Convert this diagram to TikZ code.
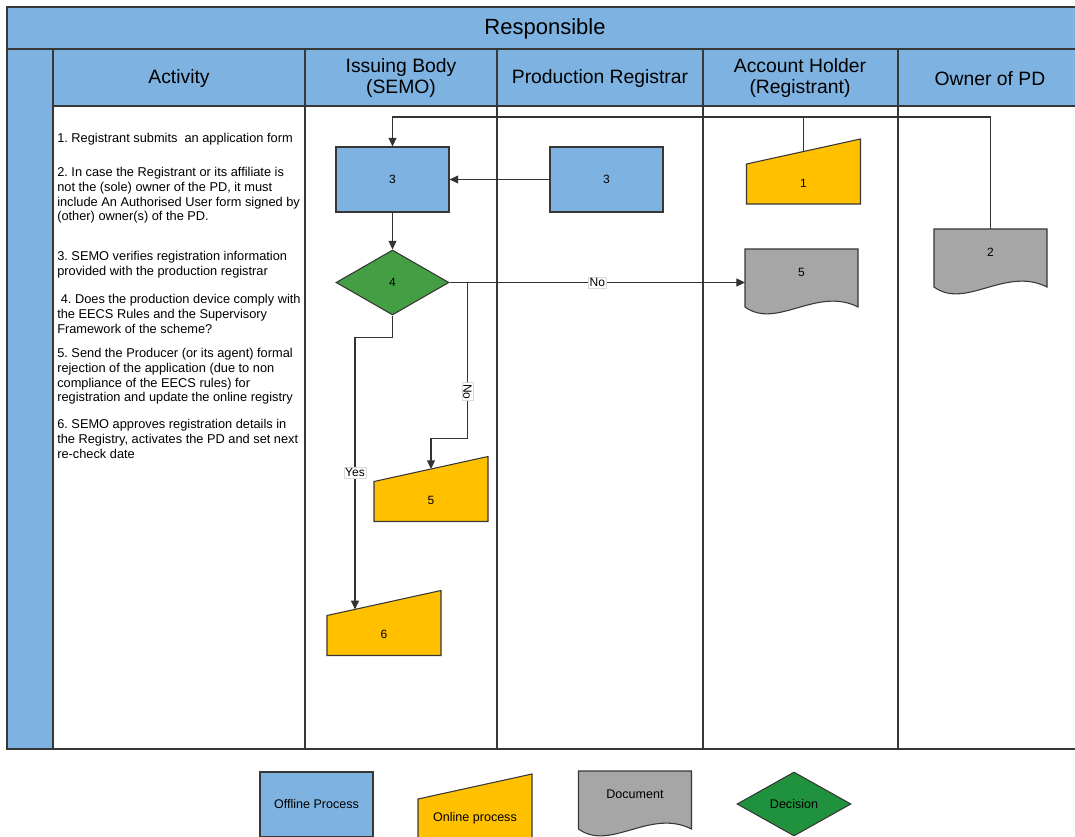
\documentclass[tikz,border=0pt]{standalone}
\usepackage{fontspec}
\setmainfont{Liberation Sans}
\usepackage{tikz}
\usetikzlibrary{positioning}
\usetikzlibrary{shapes}
\usetikzlibrary{calc}
\usetikzlibrary{arrows.meta}
\definecolor{bleuoff}{RGB}{126,178,224}
\definecolor{jauneon}{RGB}{255,192,0}
\definecolor{grisdoc}{RGB}{166,166,166}
\definecolor{vertdec}{RGB}{67,158,68}
\definecolor{vertleg}{RGB}{32,146,62}
\definecolor{bord}{RGB}{55,55,55}
\frenchspacing

\begin{document}
\begin{tikzpicture}[x=0.75pt,y=-0.75pt]
% définition des paramètres
\tikzstyle bandebleue=[fill=bleuoff,draw=bord,line width=1.1pt]
\tikzstyle cadre=[draw=bord,line width=1.1pt]
\tikzstyle titre=[font=\fontsize{14.5}{15.75}\selectfont,align=center]
\tikzstyle activite=[font=\fontsize{9.6}{11.1}\selectfont,align=left,anchor=north west,inner sep=0pt]
\tikzstyle chiffre=[font=\fontsize{9}{10}\selectfont,inner sep=0pt]
\tikzstyle boiteoff=[fill=bleuoff,draw=bord,line width=0.8pt,minimum width=84.75pt,minimum height=48.75pt,inner sep=0pt,font=\fontsize{9}{10}\selectfont]
\tikzstyle boiteon=[fill=jauneon,draw=bord,line width=0.8pt]
\tikzstyle boitedoc=[fill=grisdoc,draw=bord,line width=0.8pt]
\tikzstyle losange=[diamond,fill=vertdec,draw=bord,line width=0.8pt,minimum width=84.75pt,minimum height=48.75pt,inner sep=0pt,font=\fontsize{9}{10}\selectfont]
\tikzstyle ligne=[draw=black!80,line width=0.8pt]
\tikzstyle fleche=[ligne,-{Triangle[length=6.5pt,width=6pt]}]
\tikzstyle etiquette=[fill=white,draw=black!15,line width=0.4pt,inner sep=1pt,font=\fontsize{9}{10}\selectfont]
\newcommand{\enligne}[4]{% nom, x, y, texte
  \filldraw[shift={(#2,#3)},boiteon] (-57,32.5) -- (57,32.5) -- (57,-32.5) -- (-57,-7.5) -- cycle;
  \coordinate (#1-in) at ($(#2,#3)+(0,-20)$);
  \coordinate (#1-g) at ($(#2,#3)+(-29,-13.6)$);
  \node[chiffre] (#1) at ($(#2,#3)+(0,11.5)$) {#4};
}
\newcommand{\fichedoc}[4]{% nom, x, y, texte
  \filldraw[shift={(#2,#3)},boitedoc] (-56.5,29) -- (-56.5,-29) -- (56.5,-29) -- (56.5,29)
    .. controls (15,8) and (-25,52) .. (-56.5,29) -- cycle;
  \coordinate (#1-haut) at ($(#2,#3)+(0,-29)$);
  \coordinate (#1-gauche) at ($(#2,#3)+(-56.5,0)$);
  \node[chiffre] (#1) at ($(#2,#3)+(0,-6)$) {#4};
}
\useasboundingbox (0,0) rectangle (1075,837);
\clip (0,0) rectangle (1075,837);
% le tableau
\draw[bandebleue] (7,7) rectangle (1090,49);
\draw[bandebleue] (7,49) rectangle (53,749);
\draw[bandebleue] (53,49) rectangle (1090,106);
\draw[cadre] (53,106) rectangle (1090,749);
\foreach \x in {305,497,703,898}
  \draw[cadre] (\x,49) -- (\x,749);
\node[font=\fontsize{16.5}{18}\selectfont] (resp) at (545,29) {Responsible};
\node[titre] (hact) at (179,78.5) {Activity};
\node[titre] (hsemo) at (401,78) {Issuing Body\\(SEMO)};
\node[titre] (hprod) at (600,78.5) {Production Registrar};
\node[titre] (hacc) at (800,78) {Account Holder\\(Registrant)};
\node[titre] (hown) at (990,78.5) {Owner of PD};
% les activités
\node[activite] (a1) at (57,133) {1. Registrant submits\ \ an application form};
\node[activite] (a2) at (57,167) {2. In case the Registrant or its affiliate is\\not the (sole) owner of the PD, it must\\include An Authorised User form signed by\\(other) owner(s) of the PD.};
\node[activite] (a3) at (57,251) {3. SEMO verifies registration information\\provided with the production registrar};
\node[activite] (a4) at (57,294) {\ 4. Does the production device comply with\\the EECS Rules and the Supervisory\\Framework of the scheme?};
\node[activite] (a5) at (57,348) {5. Send the Producer (or its agent) formal\\rejection of the application (due to non\\compliance of the EECS rules) for\\registration and update the online registry};
\node[activite] (a6) at (57,419) {6. SEMO approves registration details in\\the Registry, activates the PD and set next\\re-check date};
% les formes
\node[boiteoff] (b3s) at (392.5,179.5) {3};
\node[boiteoff] (b3p) at (606.5,179.5) {3};
\node[losange] (d4) at (392.5,282.5) {4};
\enligne{on1}{803.5}{171.5}{1}
\fichedoc{d5}{801.5}{278}{5}
\fichedoc{d2}{990.5}{258}{2}
\enligne{on5}{431}{489}{5}
\enligne{on6}{384}{623}{6}
% les liaisons
\draw[fleche] (b3p.west) -- (b3s.east);
\draw[fleche] (b3s.south) -- (d4.north);
\draw[fleche] (on1-in) -- ++(0,-34.5) coordinate (jonction) -| (b3s.north);
\draw[ligne] (d2-haut) |- (jonction);
\draw[fleche] (d4.east) -- node[etiquette] {No} (d4.east -| d5-gauche);
\draw[fleche] (d4.east) -- ++(18,0) -- ++(0,156) node[etiquette,pos=0.7,rotate=-90] {No} -| (on5-in);
\draw[fleche] (d4.south) -- ++(0,22) -| node[etiquette,pos=0.748] {Yes} (on6-g);
% la légende
\node[boiteoff,font=\fontsize{9.4}{10}\selectfont] (legoff) at (316.5,804.5) {Offline Process};
\enligne{legon}{475}{806.5}{\fontsize{9.4}{10}\selectfont Online process}
\fichedoc{legdoc}{635}{800}{\fontsize{9.4}{10}\selectfont Document}
\node[losange,fill=vertleg,minimum width=85.5pt,minimum height=48pt,font=\fontsize{9.4}{10}\selectfont] (legdec) at (794,804) {Decision};
\end{tikzpicture}
\end{document}
